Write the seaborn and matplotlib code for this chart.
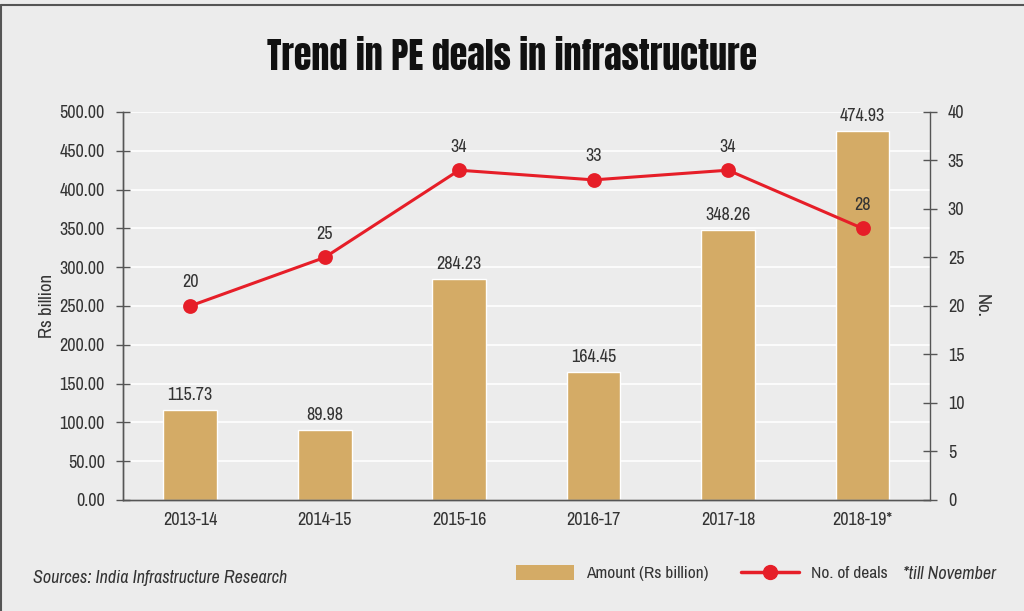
import numpy as np
import seaborn as sns
import matplotlib.pyplot as plt
from matplotlib.lines import Line2D
from matplotlib.patches import Patch

years = ["2013-14", "2014-15", "2015-16", "2016-17", "2017-18", "2018-19*"]
amount = [115.73, 89.98, 284.23, 164.45, 348.26, 474.93]
deals = [20, 25, 34, 33, 34, 28]

bar_col = "#d4ab66"
red = "#e61e28"
bg = "#ececec"
ink = "#333333"

sns.set_theme(style="white")
plt.rcParams['font.family'] = ['Archivo Narrow', 'Roboto Condensed', 'DejaVu Sans']

fig = plt.figure(figsize=(10.24, 6.11), dpi=100, facecolor=bg)
ax = fig.add_axes([0.120, 0.1817, 0.788, 0.635])
ax.set_facecolor(bg)

sns.barplot(x=years, y=amount, color=bar_col, width=0.4, saturation=1, ax=ax, zorder=2)
ax.set_ylim(0, 500)
ax.set_yticks(np.arange(0, 501, 50))
ax.set_yticklabels([f"{v:.2f}" for v in np.arange(0, 501, 50)])
ax.yaxis.grid(True, color="white", lw=1.2, zorder=0)
ax.set_axisbelow(True)
for i, v in enumerate(amount):
    ax.text(i, v + 9, f"{v:.2f}", ha="center", va="bottom", fontsize=13, color=ink)

ax2 = ax.twinx()
sns.pointplot(x=years, y=deals, color=red, markers="o", ax=ax2,
              linewidth=2.2, markersize=9)
ax2.set_ylim(0, 40)
ax2.set_yticks(np.arange(0, 41, 5))
for i, v in enumerate(deals):
    ax2.text(i, v + 1.6, str(v), ha="center", va="bottom", fontsize=13, color=ink)

for a in (ax, ax2):
    a.set_xlim(-0.5, 5.5)
    for s in a.spines.values():
        s.set_color("#555555")
        s.set_linewidth(1)
    a.spines["top"].set_visible(False)
    a.tick_params(axis="y", direction="inout", length=10, width=1, color="#555555",
                  labelsize=13, labelcolor=ink)

ax.spines["right"].set_visible(False)
ax.set_xticks(range(6))
ax.set_xticklabels(years)
ax.set_xticks(np.arange(0.5, 5.5, 1), minor=True)
ax.tick_params(axis="x", which="major", length=0, labelsize=13, labelcolor=ink, pad=9)
ax.tick_params(axis="x", which="minor", direction="inout", length=10, width=1, color="#555555")
ax.tick_params(axis="y", pad=8)
ax2.tick_params(axis="y", pad=8)

ax.set_ylabel("Rs billion", fontsize=13.5, color=ink, labelpad=3)
ax2.set_ylabel("No.", fontsize=13.5, color=ink, rotation=270, labelpad=18)

fig.text(0.5, 0.907, "Trend in PE deals in infrastructure", ha="center", va="center",
         fontsize=26, family=["Anton", "DejaVu Sans"], color="#111111")
fig.text(0.032, 0.054, "Sources: India Infrastructure Research", ha="left", va="center",
         fontsize=13, style="italic", color=ink)
fig.text(0.882, 0.061, "*till November", ha="left", va="center",
         fontsize=13, style="italic", color=ink)

handles = [Patch(facecolor=bar_col, edgecolor="none"),
           Line2D([0], [0], color=red, lw=2.5, marker="o", markersize=10)]
fig.legend(handles, ["Amount (Rs billion)", "No. of deals"], ncol=2, frameon=False,
           loc="center left", bbox_to_anchor=(0.489, 0.062), fontsize=12.5,
           labelcolor=ink, handlelength=3.3, handleheight=1.0, columnspacing=1.9,
           handletextpad=0.7)

fig.add_artist(Line2D([0.001, 0.001], [0, 0.992], color="#555555", lw=1.5))
fig.add_artist(Line2D([0.001, 1], [0.992, 0.992], color="#555555", lw=1.5))

fig.savefig("out.png", dpi=100, facecolor=bg)
